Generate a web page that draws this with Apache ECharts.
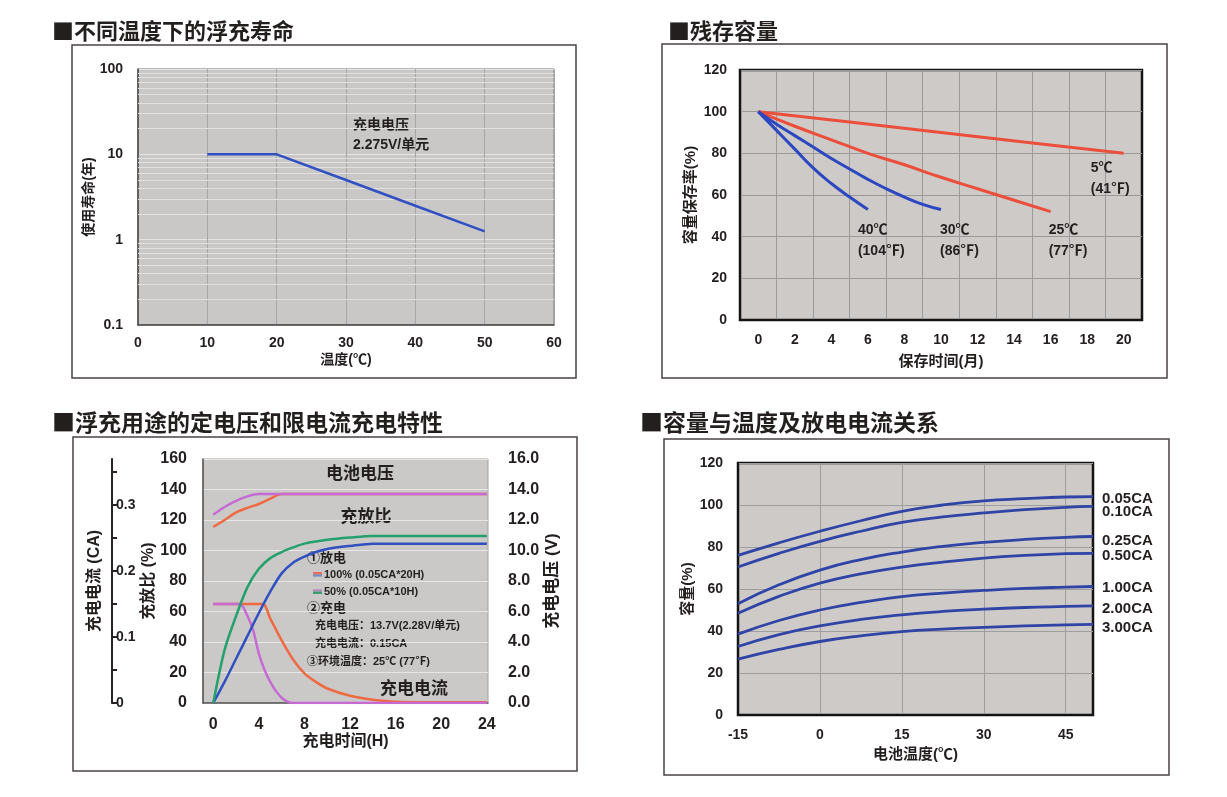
<!DOCTYPE html>
<html>
<head>
<meta charset="utf-8">
<script src="https://cdn.jsdelivr.net/npm/echarts@6.0.0/dist/echarts.min.js"></script>
<style>
  html, body { margin: 0; padding: 0; background: #fff; }
  #chart { width: 1227px; height: 797px; }
</style>
</head>
<body>
<div id="chart"></div>
<script>
// ---- 不同温度下的浮充寿命
const lifeTemp = [10, 20, 30, 40, 50]
const lifeYears = [10, 10, 5, 2.5, 1.25]
const lifeMinor = [0.2, 0.3, 0.4, 0.5, 0.6, 0.7, 0.8, 0.9, 2, 3, 4, 5, 6, 7, 8, 9, 20, 30, 40, 50, 60, 70, 80, 90]

// ---- 残存容量
const monthLabels = [0, 2, 4, 6, 8, 10, 12, 14, 16, 18, 20]
const monthGrid = [1, 3, 5, 7, 9, 11, 13, 15, 17, 19]
const m5 = [0, 5, 10, 15, 20]
const keep5 = [100, 95, 90, 85, 80]
const m25 = [0, 2, 4, 6, 8, 10, 12, 14, 16]
const keep25 = [100, 93, 86.5, 80, 74.5, 68.5, 63, 57.5, 52]
const m30 = [0, 1, 2, 3, 4, 5, 6, 7, 8, 9, 10]
const keep30 = [100, 94, 88.5, 83, 77.5, 72.5, 67.5, 63, 59, 55.5, 53]
const m40 = [0, 1, 2, 3, 4, 5, 6]
const keep40 = [100, 91, 82, 73, 65.5, 59, 53]

// ---- 浮充用途的定电压和限电流充电特性
const hourLabels = [0, 4, 8, 12, 16, 20, 24]
const hV100 = [0, 1, 2, 3, 4, 5, 6, 24]
const volt100 = [11.55, 12.0, 12.5, 12.8, 13.05, 13.4, 13.7, 13.7]
const hV50 = [0, 1, 2, 3, 4, 24]
const volt50 = [12.35, 12.85, 13.25, 13.55, 13.7, 13.7]
const hR100 = [0, 1, 2, 3, 4, 5, 6, 7, 8, 9, 10, 12, 14, 24]
const ratio100 = [0, 14, 29, 44, 59, 73, 85, 92, 96, 99, 101, 103, 104.5, 104.5]
const hR50 = [0, 1, 2, 3, 4, 5, 6, 7, 8, 10, 12, 14, 24]
const ratio50 = [0, 35, 57, 76, 88, 95, 99, 102, 104.5, 107, 108.5, 109.5, 109.5]
const hI100 = [0, 4.3, 5, 6, 7, 8, 9, 10, 12, 14, 16, 24]
const cur100 = [0.15, 0.15, 0.128, 0.095, 0.066, 0.045, 0.032, 0.022, 0.011, 0.005, 0.002, 0.001]
const hI50 = [0, 2.3, 3, 3.5, 4, 4.5, 5, 5.5, 6, 6.5, 7, 24]
const cur50 = [0.15, 0.15, 0.132, 0.11, 0.075, 0.05, 0.032, 0.018, 0.008, 0.002, 0, 0]

// ---- 容量与温度及放电电流关系
const battTemp = [-15, -7.5, 0, 7.5, 15, 22.5, 30, 37.5, 45, 50]
const tempLabels = [-15, 0, 15, 30, 45]
const rateNames = ['0.05CA', '0.10CA', '0.25CA', '0.50CA', '1.00CA', '2.00CA', '3.00CA']
const capByRate = [
  [76, 82, 87.5, 92.5, 97, 100, 102, 103, 103.8, 104],
  [70.5, 77, 82.7, 87.5, 91.7, 94.3, 96.2, 97.8, 98.9, 99.3],
  [53, 62, 69, 74, 77.6, 80.3, 82.2, 83.6, 84.6, 85],
  [48.5, 56.5, 62.8, 67.2, 70.4, 72.8, 74.7, 76, 76.8, 77],
  [38.5, 45, 50, 53.6, 56.4, 58, 59.3, 60.3, 60.9, 61.2],
  [32.6, 38.3, 42.4, 45.5, 47.7, 49.3, 50.4, 51.2, 51.7, 52],
  [26.6, 31.2, 35, 37.7, 39.7, 40.9, 41.7, 42.4, 42.9, 43.2]
]
const rateLabelShift = [2, 5, 4, 3, 1, 3, 4]

const zip = (xs, ys) => xs.map((x, i) => [x, ys[i]])

const INK = '#231f1f'
const FONT = '"Liberation Sans", "Noto Sans CJK SC", sans-serif'
const CJK = '"Noto Sans CJK SC", "Liberation Sans", sans-serif'
const tick = (size) => ({ color: INK, fontSize: size, fontWeight: 'bold', fontFamily: FONT })

const chart = echarts.init(document.getElementById('chart'))

const storeLabel = (text, off) => ({
  show: true,
  formatter: text,
  distance: 0,
  offset: off,
  align: 'left',
  verticalAlign: 'top',
  color: INK,
  fontSize: 14,
  fontWeight: 'bold',
  fontFamily: FONT,
  lineHeight: 21
})

const option = {
  animation: false,
  backgroundColor: '#fff',
  textStyle: { fontFamily: FONT },
  grid: [
    { left: 138, top: 69, width: 416, height: 256, show: true, backgroundColor: '#c9c8c7', borderColor: '#777', borderWidth: 1 },
    { left: 740, top: 70, width: 402, height: 250, show: true, backgroundColor: '#cdcac8', borderColor: '#141414', borderWidth: 2.5 },
    { left: 203, top: 459, width: 285, height: 244, show: true, backgroundColor: '#cbc9c8', borderColor: '#a0a0a0', borderWidth: 1 },
    { left: 738, top: 463, width: 355, height: 252, show: true, backgroundColor: '#cdcac8', borderColor: '#141414', borderWidth: 2.5 }
  ],
  xAxis: [
    {
      gridIndex: 0, type: 'value', min: 0, max: 60, interval: 10,
      name: '温度(℃)', nameLocation: 'middle', nameGap: 28,
      nameTextStyle: tick(14),
      axisLine: { onZero: false, lineStyle: { color: '#444', width: 1.5 } },
      axisTick: { show: false },
      axisLabel: { ...tick(14), margin: 11 },
      splitLine: { show: true, lineStyle: { color: '#a6a6a6', width: 1 } }
    },
    {
      gridIndex: 1, type: 'value', min: -1, max: 21,
      name: '保存时间(月)', nameLocation: 'middle', nameGap: 34,
      nameTextStyle: tick(15),
      axisLine: { onZero: false, lineStyle: { color: '#141414', width: 2 } },
      axisTick: { show: false, customValues: monthGrid },
      axisLabel: { ...tick(14), margin: 13, customValues: monthLabels },
      splitLine: { show: true, lineStyle: { color: '#9a9a9a', width: 1 } }
    },
    {
      gridIndex: 2, type: 'value', min: -0.9, max: 24.1,
      name: '充电时间(H)', nameLocation: 'middle', nameGap: 31,
      nameTextStyle: tick(16),
      axisLine: { onZero: false, lineStyle: { color: '#555', width: 1.5 } },
      axisTick: { show: false, customValues: hourLabels },
      axisLabel: { ...tick(16), margin: 14, customValues: hourLabels },
      splitLine: { show: false }
    },
    {
      gridIndex: 3, type: 'value', min: -15, max: 50,
      name: '电池温度(℃)', nameLocation: 'middle', nameGap: 32,
      nameTextStyle: tick(15),
      axisLine: { onZero: false, lineStyle: { color: '#141414', width: 2 } },
      axisTick: { show: false, customValues: tempLabels },
      axisLabel: { ...tick(14), margin: 13, customValues: tempLabels },
      splitLine: { show: true, lineStyle: { color: '#9e9e9e', width: 1 } }
    }
  ],
  yAxis: [
    {
      gridIndex: 0, type: 'log', logBase: 10, min: 0.1, max: 100,
      name: '使用寿命(年)', nameLocation: 'middle', nameGap: 38,
      nameTextStyle: tick(14),
      axisLine: { show: true, onZero: false, lineStyle: { color: '#444', width: 1.5 } },
      axisTick: { show: false },
      axisLabel: { ...tick(14), margin: 15 },
      splitLine: { show: true, lineStyle: { color: '#e4e4e4', width: 1 } }
    },
    {
      gridIndex: 1, type: 'value', min: 0, max: 120, interval: 20,
      name: '容量保存率(%)', nameLocation: 'middle', nameGap: 42,
      nameTextStyle: tick(15),
      axisLine: { show: true, onZero: false, lineStyle: { color: '#141414', width: 2 } },
      axisTick: { show: false },
      axisLabel: { ...tick(14), margin: 13 },
      splitLine: { show: true, lineStyle: { color: '#9a9a9a', width: 1 } }
    },
    {
      gridIndex: 2, type: 'value', position: 'left', min: 0, max: 160, interval: 20,
      name: '充放比 (%)', nameLocation: 'middle', nameGap: 46,
      nameTextStyle: tick(16),
      axisLine: { show: true, onZero: false, lineStyle: { color: '#555', width: 1.5 } },
      axisTick: { show: false },
      axisLabel: { ...tick(16), margin: 16 },
      splitLine: { show: true, lineStyle: { color: '#e6e6e6', width: 1 } }
    },
    {
      gridIndex: 2, type: 'value', position: 'right', min: 0, max: 16, interval: 2,
      name: '充电电压 (V)', nameLocation: 'middle', nameGap: 56,
      nameTextStyle: tick(17),
      axisLine: { show: false, onZero: false },
      axisTick: { show: false },
      axisLabel: { ...tick(16), margin: 20, formatter: v => v.toFixed(1) },
      splitLine: { show: false }
    },
    {
      gridIndex: 2, type: 'value', position: 'left', offset: 91, min: 0, max: 0.37, interval: 0.05,
      name: '充电电流 (CA)', nameLocation: 'middle', nameGap: 9,
      nameTextStyle: tick(16),
      axisLine: { show: true, onZero: false, lineStyle: { color: '#2a2222', width: 2 } },
      axisTick: { show: true, inside: true, length: 5, lineStyle: { color: '#2a2222', width: 2 } },
      axisLabel: {
        ...tick(14), inside: true, margin: 4, showMaxLabel: false,
        formatter: v => (Math.round(v * 100) % 10 === 0 ? String(+v.toFixed(1)) : '')
      },
      splitLine: { show: false }
    },
    {
      gridIndex: 3, type: 'value', min: 0, max: 120, interval: 20,
      name: '容量(%)', nameLocation: 'middle', nameGap: 43,
      nameTextStyle: tick(15),
      axisLine: { show: true, onZero: false, lineStyle: { color: '#141414', width: 2 } },
      axisTick: { show: false },
      axisLabel: { ...tick(14), margin: 15 },
      splitLine: { show: true, lineStyle: { color: '#9e9e9e', width: 1 } }
    }
  ],
  series: [
    // panel 1: log minor grid + life line
    {
      type: 'line', xAxisIndex: 0, yAxisIndex: 0, data: [], z: 1, silent: true,
      markLine: {
        z: 1, silent: true, symbol: 'none', label: { show: false },
        lineStyle: { color: '#e0e0e0', width: 1, type: 'solid' },
        data: lifeMinor.map(v => ({ yAxis: v }))
      }
    },
    {
      name: '浮充寿命', type: 'line', xAxisIndex: 0, yAxisIndex: 0, z: 6,
      data: zip(lifeTemp, lifeYears), symbol: 'none',
      lineStyle: { color: '#3150c2', width: 2.5 }
    },
    // panel 2
    {
      name: '5℃', type: 'line', xAxisIndex: 1, yAxisIndex: 1, data: zip(m5, keep5),
      symbol: 'none', smooth: true, lineStyle: { color: '#ec4e3c', width: 3 },
      endLabel: storeLabel('5℃\n(41℉)', [-33, 4])
    },
    {
      name: '25℃', type: 'line', xAxisIndex: 1, yAxisIndex: 1, data: zip(m25, keep25),
      symbol: 'none', smooth: true, lineStyle: { color: '#ec4e3c', width: 3 },
      endLabel: storeLabel('25℃\n(77℉)', [-2, 8])
    },
    {
      name: '30℃', type: 'line', xAxisIndex: 1, yAxisIndex: 1, data: zip(m30, keep30),
      symbol: 'none', smooth: true, lineStyle: { color: '#2c47bf', width: 3 },
      endLabel: storeLabel('30℃\n(86℉)', [-1, 10])
    },
    {
      name: '40℃', type: 'line', xAxisIndex: 1, yAxisIndex: 1, data: zip(m40, keep40),
      symbol: 'none', smooth: true, lineStyle: { color: '#2c47bf', width: 3 },
      endLabel: storeLabel('40℃\n(104℉)', [-10, 10])
    },
    // panel 3
    {
      name: '充电电流100%', type: 'line', xAxisIndex: 2, yAxisIndex: 4, data: zip(hI100, cur100),
      symbol: 'none', smooth: 0.3, lineStyle: { color: '#ef6a42', width: 2.5 }
    },
    {
      name: '充电电流50%', type: 'line', xAxisIndex: 2, yAxisIndex: 4, data: zip(hI50, cur50),
      symbol: 'none', smooth: 0.3, lineStyle: { color: '#c56bd3', width: 2.5 }
    },
    {
      name: '充放比100%', type: 'line', xAxisIndex: 2, yAxisIndex: 2, data: zip(hR100, ratio100),
      symbol: 'none', smooth: 0.3, lineStyle: { color: '#3050c0', width: 2.5 }
    },
    {
      name: '充放比50%', type: 'line', xAxisIndex: 2, yAxisIndex: 2, data: zip(hR50, ratio50),
      symbol: 'none', smooth: 0.3, lineStyle: { color: '#24a06c', width: 2.5 }
    },
    {
      name: '电池电压100%', type: 'line', xAxisIndex: 2, yAxisIndex: 3, data: zip(hV100, volt100),
      symbol: 'none', smooth: 0.3, lineStyle: { color: '#ef6a42', width: 2.5 }
    },
    {
      name: '电池电压50%', type: 'line', xAxisIndex: 2, yAxisIndex: 3, data: zip(hV50, volt50),
      symbol: 'none', smooth: 0.3, lineStyle: { color: '#c56bd3', width: 2.5 }
    },
    // panel 4
    ...rateNames.map((name, i) => ({
      name, type: 'line', xAxisIndex: 3, yAxisIndex: 5, data: zip(battTemp, capByRate[i]),
      symbol: 'none', smooth: true, lineStyle: { color: '#3044a6', width: 2.8 },
      endLabel: {
        show: true, formatter: '{a}', distance: 9, offset: [0, rateLabelShift[i]],
        color: INK, fontSize: 15, fontWeight: 'bold', fontFamily: FONT
      }
    }))
  ],
  graphic: [
    // panel frames
    { type: 'rect', shape: { x: 72, y: 45, width: 504, height: 333 }, style: { fill: 'none', stroke: '#4a4444', lineWidth: 1.5 } },
    { type: 'rect', shape: { x: 662, y: 44, width: 505, height: 334 }, style: { fill: 'none', stroke: '#4a4444', lineWidth: 1.5 } },
    { type: 'rect', shape: { x: 73, y: 437, width: 504, height: 334 }, style: { fill: 'none', stroke: '#4a4444', lineWidth: 1.5 } },
    { type: 'rect', shape: { x: 664, y: 439, width: 505, height: 336 }, style: { fill: 'none', stroke: '#4a4444', lineWidth: 1.5 } },
    // titles
    { type: 'text', x: 52, y: 31, style: { text: '■不同温度下的浮充寿命', font: 'bold 22px ' + CJK, fill: INK, verticalAlign: 'middle' } },
    { type: 'text', x: 668, y: 31, style: { text: '■残存容量', font: 'bold 22px ' + CJK, fill: INK, verticalAlign: 'middle' } },
    { type: 'text', x: 52, y: 422, style: { text: '■浮充用途的定电压和限电流充电特性', font: 'bold 23px ' + CJK, fill: INK, verticalAlign: 'middle' } },
    { type: 'text', x: 640, y: 422, style: { text: '■容量与温度及放电电流关系', font: 'bold 23px ' + CJK, fill: INK, verticalAlign: 'middle' } },
    // panel 1 note
    { type: 'text', x: 353, y: 125, style: { text: '充电电压', font: 'bold 14px ' + FONT, fill: INK, verticalAlign: 'middle' } },
    { type: 'text', x: 353, y: 145, style: { text: '2.275V/单元', font: 'bold 14px ' + FONT, fill: INK, verticalAlign: 'middle' } },
    // panel 3 notes
    { type: 'text', x: 360, y: 473, style: { text: '电池电压', font: 'bold 17px ' + CJK, fill: INK, align: 'center', verticalAlign: 'middle' } },
    { type: 'text', x: 366, y: 516, style: { text: '充放比', font: 'bold 17px ' + CJK, fill: INK, align: 'center', verticalAlign: 'middle' } },
    { type: 'text', x: 414, y: 688, style: { text: '充电电流', font: 'bold 17px ' + CJK, fill: INK, align: 'center', verticalAlign: 'middle' } },
    { type: 'text', x: 307, y: 558, style: { text: '①放电', font: 'bold 13px ' + FONT, fill: INK, verticalAlign: 'middle' } },
    { type: 'rect', shape: { x: 313, y: 572, width: 9, height: 2.3 }, style: { fill: '#ef6a5a' } },
    { type: 'rect', shape: { x: 313, y: 574.3, width: 9, height: 2.3 }, style: { fill: '#7a8ac0' } },
    { type: 'text', x: 324, y: 574.5, style: { text: '100% (0.05CA*20H)', font: 'bold 11px ' + FONT, fill: INK, verticalAlign: 'middle' } },
    { type: 'rect', shape: { x: 313, y: 589.3, width: 9, height: 2.3 }, style: { fill: '#b08ab8' } },
    { type: 'rect', shape: { x: 313, y: 591.6, width: 9, height: 2.3 }, style: { fill: '#3a9a6c' } },
    { type: 'text', x: 324, y: 591.5, style: { text: '50% (0.05CA*10H)', font: 'bold 11px ' + FONT, fill: INK, verticalAlign: 'middle' } },
    { type: 'text', x: 307, y: 608, style: { text: '②充电', font: 'bold 13px ' + FONT, fill: INK, verticalAlign: 'middle' } },
    { type: 'text', x: 315, y: 626, style: { text: '充电电压：13.7V(2.28V/单元)', font: 'bold 11px ' + FONT, fill: INK, verticalAlign: 'middle' } },
    { type: 'text', x: 315, y: 644, style: { text: '充电电流：0.15CA', font: 'bold 11px ' + FONT, fill: INK, verticalAlign: 'middle' } },
    { type: 'text', x: 307, y: 662, style: { text: '③环境温度：25℃ (77℉)', font: 'bold 11px ' + FONT, fill: INK, verticalAlign: 'middle' } }
  ]
}

chart.setOption(option)
</script>
</body>
</html>
